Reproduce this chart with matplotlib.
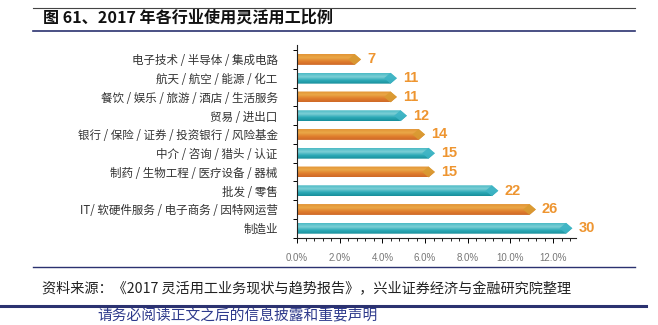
import matplotlib
matplotlib.use("Agg")
import matplotlib.pyplot as plt
import numpy as np
from matplotlib.lines import Line2D
from matplotlib.patches import Polygon
from matplotlib.colors import to_rgb

plt.rcParams['font.family'] = ['Noto Sans CJK SC', 'DejaVu Sans']

categories = ["电子技术 / 半导体 / 集成电路", "航天 / 航空 / 能源 / 化工",
              "餐饮 / 娱乐 / 旅游 / 酒店 / 生活服务", "贸易 / 进出口",
              "银行 / 保险 / 证券 / 投资银行 / 风险基金", "中介 / 咨询 / 猎头 / 认证",
              "制药 / 生物工程 / 医疗设备 / 器械", "批发 / 零售",
              "IT/ 软硬件服务 / 电子商务 / 因特网运营", "制造业"]
value_labels = [7, 11, 11, 12, 14, 15, 15, 22, 26, 30]
bar_pct = [3.0, 4.68, 4.68, 5.15, 6.0, 6.46, 6.46, 9.43, 11.19, 12.9]
xticks = [0, 2, 4, 6, 8, 10, 12]
xtick_labels = ["0.0%", "2.0%", "4.0%", "6.0%", "8.0%", "10.0%", "12.0%"]

W, H = 658, 325
fig = plt.figure(figsize=(W / 100, H / 100), dpi=100)

def fx(x):
    return x / W

def fy(y):
    return 1 - y / H

ax = fig.add_axes([fx(297), fy(238), (576 - 297) / W, (238 - 45) / H])

orange_stops = ["#E39436", "#EAA847", "#E07E2D", "#CF6928"]
teal_stops = ["#4CBAC5", "#7CCFD6", "#2CA9B6", "#188F9B"]
orange_tip = "#D99A32"
teal_tip = "#3DB4C4"

def grad(stops, n=40):
    cols = np.array([to_rgb(c) for c in stops])
    pos = np.linspace(0, 1, len(stops))
    t = np.linspace(0, 1, n)
    arr = np.stack([np.interp(t, pos, cols[:, k]) for k in range(3)], axis=-1)
    return arr[:, None, :].repeat(2, axis=1)

n = len(categories)
ys = [n - 1 - i for i in range(n)]
h = 0.58
tipw = 0.3
for i, (v, y) in enumerate(zip(bar_pct, ys)):
    stops = orange_stops if i % 2 == 0 else teal_stops
    tipc = orange_tip if i % 2 == 0 else teal_tip
    poly = Polygon([(0, y - h / 2), (v - tipw, y - h / 2), (v, y),
                    (v - tipw, y + h / 2), (0, y + h / 2)], closed=True,
                   facecolor='none', edgecolor='none', transform=ax.transData)
    ax.add_patch(poly)
    im = ax.imshow(grad(stops), extent=[0, v, y - h / 2, y + h / 2],
                   origin='upper', aspect='auto', interpolation='bilinear', zorder=2)
    im.set_clip_path(poly)
    dia = Polygon([(v - 2 * tipw, y), (v - tipw, y + h / 2), (v, y),
                   (v - tipw, y - h / 2)], closed=True, facecolor=tipc,
                  edgecolor='none', zorder=3, alpha=0.9)
    ax.add_patch(dia)
    ax.text(v + 0.28, y, str(value_labels[i]), ha='left', va='center',
            color='#EE9530', fontsize=10.5, fontweight='bold',
            family=['Liberation Sans', 'DejaVu Sans'], zorder=4)

ax.set_xlim(0, 13.07)
ax.set_ylim(-0.52, 9.77)

ax.set_xticks(xticks)
ax.set_xticklabels(xtick_labels, color='#777777', fontsize=7,
                   family=['Liberation Sans', 'DejaVu Sans'])
ax.set_xticks(np.arange(0, 13.0, 0.4), minor=True)
ax.tick_params(axis='x', which='major', length=3.5, width=0.7, direction='out', pad=7)
ax.tick_params(axis='x', which='minor', length=2.2, width=0.6, direction='out')

ax.set_yticks([y + 0.5 for y in range(-1, n)])
ax.set_yticklabels([])
ax.tick_params(axis='y', which='major', length=3, width=0.7, direction='out')
ax.set_yticks(ys, minor=True)
ax.set_yticklabels(categories, minor=True, fontsize=8.3, color='#333333')
ax.tick_params(axis='y', which='minor', length=0, pad=14)

for s in ['top', 'right']:
    ax.spines[s].set_visible(False)
for s in ['left', 'bottom']:
    ax.spines[s].set_linewidth(0.8)
    ax.spines[s].set_color('#222222')

# title and decorations
fig.text(fx(43), fy(17), "图 61、2017 年各行业使用灵活用工比例", fontsize=11.6,
         fontweight='bold', color='#111111', ha='left', va='center')
navy = '#2B3270'
fig.add_artist(Line2D([fx(33), fx(635)], [fy(7.5), fy(7.5)], color='#444444', lw=0.8))
fig.add_artist(Line2D([fx(33), fx(635)], [fy(31), fy(31)], color=navy, lw=1.2))
fig.add_artist(Line2D([fx(33), fx(635)], [fy(267), fy(267)], color=navy, lw=1.0))
fig.add_artist(Line2D([fx(0), fx(646)], [fy(305.5), fy(305.5)], color=navy, lw=2.2))

fig.text(fx(42), fy(289), "资料来源：《2017 灵活用工业务现状与趋势报告》，兴业证券经济与金融研究院整理",
         fontsize=10.2, color='#222222', ha='left', va='center')
fig.text(fx(97), fy(316.5), "请务必阅读正文之后的信息披露和重要声明",
         fontsize=10.6, color='#2E3A8C', ha='left', va='center')

fig.savefig("out.png", dpi=100)
